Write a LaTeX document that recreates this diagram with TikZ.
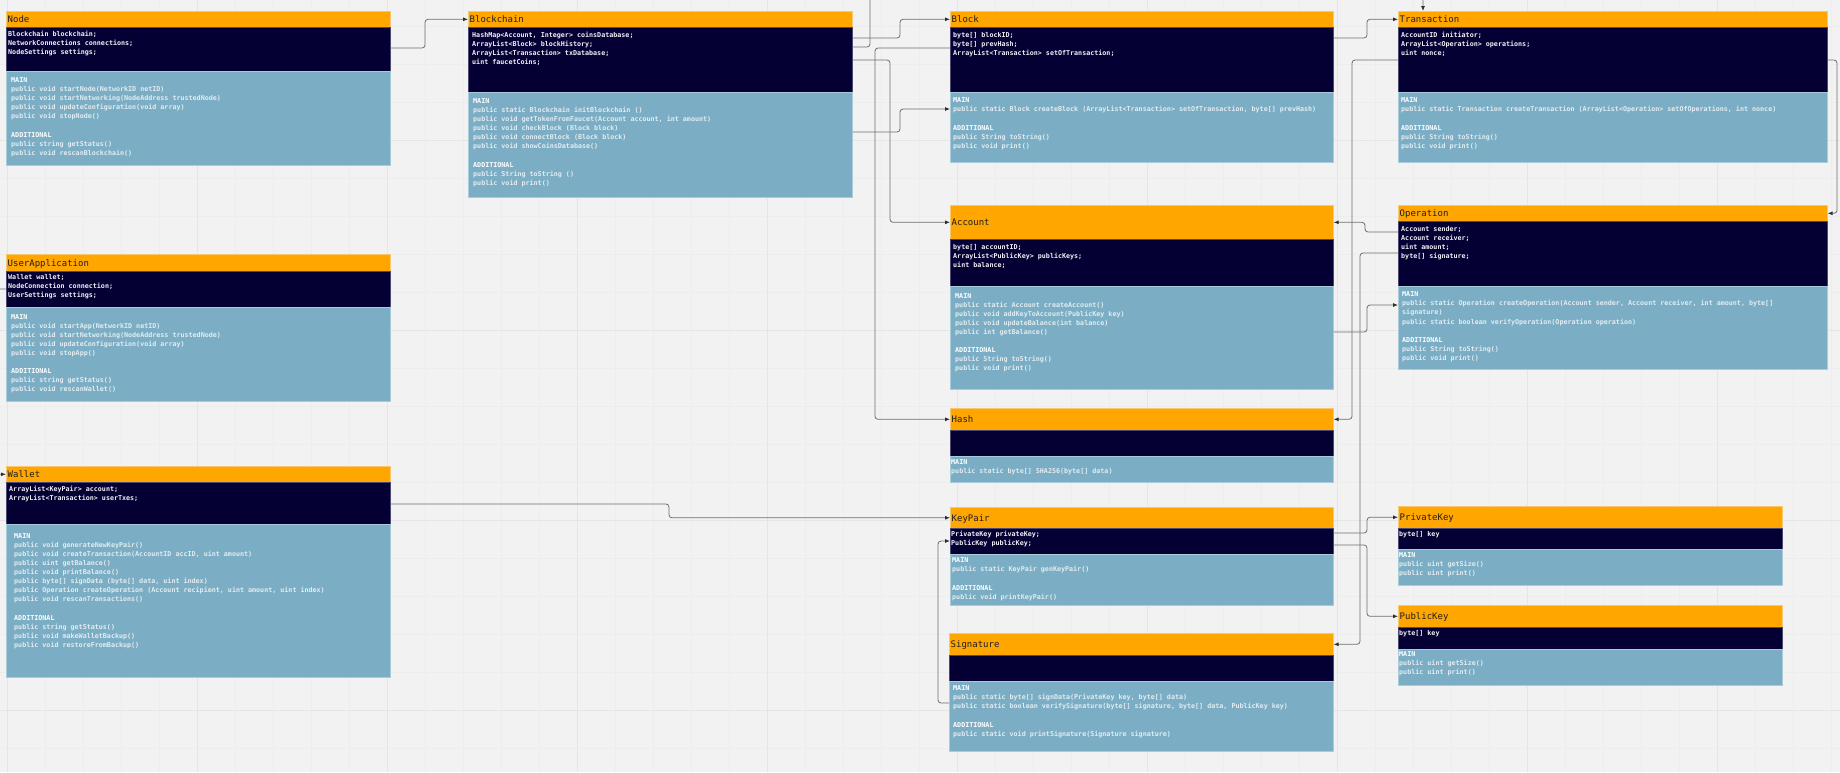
\documentclass[tikz,border=0pt]{standalone}
\usepackage{fontspec}
\usetikzlibrary{arrows.meta}
\newfontfamily\monofont{DejaVu Sans Mono}

\definecolor{bgc}{HTML}{F2F2F2}
\definecolor{gridminor}{HTML}{EDEDED}
\definecolor{gridmajor}{HTML}{E5E5E5}
\definecolor{hdr}{HTML}{FFA600}
\definecolor{hdrline}{HTML}{F9C770}
\definecolor{navy}{HTML}{050033}
\definecolor{navyline}{HTML}{4C4A72}
\definecolor{steel}{HTML}{7BAEC4}
\definecolor{steelline}{HTML}{A9CCDA}
\definecolor{attrc}{HTML}{F0F0F6}
\definecolor{methc}{HTML}{E2ECF1}
\definecolor{wire}{HTML}{6E6E6E}
\definecolor{tipc}{HTML}{2E2E2E}

\tikzset{
  titlebox/.style={rectangle, draw=hdrline, fill=hdr, line width=0.6pt, anchor=north west, inner sep=0pt},
  attrbox/.style={rectangle, draw=navyline, fill=navy, line width=0.6pt, anchor=north west, inner sep=0pt},
  methbox/.style={rectangle, draw=steelline, fill=steel, line width=0.6pt, anchor=north west, inner sep=0pt},
  titletext/.style={anchor=west, inner sep=0pt, font=\monofont\fontsize{9}{10}\selectfont, text=black!88, text height=6.5pt, text depth=0pt},
  attrtext/.style={anchor=north west, inner sep=0pt, align=left, font=\monofont\bfseries\fontsize{6.7}{9.1}\selectfont, text=attrc},
  methtext/.style={anchor=north west, inner sep=0pt, align=left, font=\monofont\bfseries\fontsize{6.7}{9.1}\selectfont, text=methc},
  wirestyle/.style={draw=wire, line width=0.8pt, rounded corners=3pt},
  arr/.style={wirestyle, -{Latex[length=5pt,width=4pt,color=tipc]}}
}

% class box: name, left x, width, top, title bottom, attributes bottom, methods bottom, title
\newcommand\umlclass[8]{%
  \node[titlebox, minimum width=#3pt, minimum height={(#5-#4)*1pt}] (#1-t) at (#2,#4) {};
  \node[attrbox, minimum width=#3pt, minimum height={(#6-#5)*1pt}] (#1-a) at (#2,#5) {};
  \node[methbox, minimum width=#3pt, minimum height={(#7-#6)*1pt}] (#1-m) at (#2,#6) {};
  \node[titletext] (#1-n) at ([xshift=1.5pt]#1-t.west) {#8};
}
% attribute and method listings: name, x offset, y offset, lines
\newcommand\umlattrs[4]{\node[attrtext] (#1-at) at ([xshift=#2pt,yshift=-#3pt]#1-a.north west) {\strut #4};}
\newcommand\umlmeths[4]{\node[methtext] (#1-mt) at ([xshift=#2pt,yshift=-#3pt]#1-m.north west) {\strut #4};}
\newcommand\sectlabel[1]{{\color{white}#1}}

\begin{document}
\begin{tikzpicture}[x=1pt, y=-1pt]
\useasboundingbox (0,0) rectangle (1840,772);
\clip (0,0) rectangle (1840,772);
\fill[bgc] (0,0) rectangle (1840,772);

% background grid
\foreach \gx in {7,45,...,1840} \draw[gridminor, line width=0.6pt] (\gx,0) -- (\gx,772);
\foreach \gy in {26,64,...,772} \draw[gridminor, line width=0.6pt] (0,\gy) -- (1840,\gy);
\foreach \gx in {7,197,...,1840} \draw[gridmajor, line width=0.8pt] (\gx,0) -- (\gx,772);
\foreach \gy in {140,330,520,710} \draw[gridmajor, line width=0.8pt] (0,\gy) -- (1840,\gy);

% ---------- classes ----------
\umlclass{node}{6}{384}{11}{27}{71}{165}{Node}
\umlattrs{node}{2}{2.9}{Blockchain blockchain;\\NetworkConnections connections;\\NodeSettings settings;}
\umlmeths{node}{5}{4.9}{\sectlabel{MAIN}\\public void startNode(NetworkID netID)\\public void startNetworking(NodeAddress trustedNode)\\public void updateConfiguration(void array)\\public void stopNode()\\[9.1pt]\sectlabel{ADDITIONAL}\\public string getStatus()\\public void rescanBlockchain()}

\umlclass{chain}{468}{384}{11}{27}{92}{197}{Blockchain}
\umlattrs{chain}{4}{3.9}{HashMap<Account, Integer> coinsDatabase;\\ArrayList<Block> blockHistory;\\ArrayList<Transaction> txDatabase;\\uint faucetCoins;}
\umlmeths{chain}{5}{4.9}{\sectlabel{MAIN}\\public static Blockchain initBlockchain ()\\public void getTokenFromFaucet(Account account, int amount)\\public void checkBlock (Block block)\\public void connectBlock (Block block)\\public void showCoinsDatabase()\\[9.1pt]\sectlabel{ADDITIONAL}\\public String toString ()\\public void print()}

\umlclass{block}{950}{383}{11}{27}{92}{162}{Block}
\umlattrs{block}{3}{3.6}{byte[] blockID;\\byte[] prevHash;\\ArrayList<Transaction> setOfTransaction;}
\umlmeths{block}{3}{4.2}{\sectlabel{MAIN}\\public static Block createBlock (ArrayList<Transaction> setOfTransaction, byte[] prevHash)\\[9.1pt]\sectlabel{ADDITIONAL}\\public String toString()\\public void print()}

\umlclass{tx}{1398}{429}{11}{27}{92}{162}{Transaction}
\umlattrs{tx}{3}{3.6}{AccountID initiator;\\ArrayList<Operation> operations;\\uint nonce;}
\umlmeths{tx}{3}{4.2}{\sectlabel{MAIN}\\public static Transaction createTransaction (ArrayList<Operation> setOfOperations, int nonce)\\[9.1pt]\sectlabel{ADDITIONAL}\\public String toString()\\public void print()}

\umlclass{account}{950}{383}{205}{239}{286}{389}{Account}
\umlattrs{account}{3}{3.6}{byte[] accountID;\\ArrayList<PublicKey> publicKeys;\\uint balance;}
\umlmeths{account}{5}{5.6}{\sectlabel{MAIN}\\public static Account createAccount()\\public void addKeyToAccount(PublicKey key)\\public void updateBalance(int balance)\\public int getBalance()\\[9.1pt]\sectlabel{ADDITIONAL}\\public String toString()\\public void print()}

\umlclass{operation}{1398}{429}{205}{221}{286}{369}{Operation}
\umlattrs{operation}{3}{3.6}{Account sender;\\Account receiver;\\uint amount;\\byte[] signature;}
\umlmeths{operation}{4}{4.2}{\sectlabel{MAIN}\\public static Operation createOperation(Account sender, Account receiver, int amount, byte[]\\signature)\\public static boolean verifyOperation(Operation operation)\\[9.1pt]\sectlabel{ADDITIONAL}\\public String toString()\\public void print()}

\umlclass{userapp}{6}{384}{254}{271}{307}{401}{UserApplication}
\umlattrs{userapp}{2}{1.6}{Wallet wallet;\\NodeConnection connection;\\UserSettings settings;}
\umlmeths{userapp}{5}{5.6}{\sectlabel{MAIN}\\public void startApp(NetworkID netID)\\public void startNetworking(NodeAddress trustedNode)\\public void updateConfiguration(void array)\\public void stopApp()\\[9.1pt]\sectlabel{ADDITIONAL}\\public string getStatus()\\public void rescanWallet()}

\umlclass{wallet}{6}{384}{466}{482}{524}{677}{Wallet}
\umlattrs{wallet}{3}{2.6}{ArrayList<KeyPair> account;\\ArrayList<Transaction> userTxes;}
\umlmeths{wallet}{8}{7.6}{\sectlabel{MAIN}\\public void generateNewKeyPair()\\public void createTransaction(AccountID accID, uint amount)\\public uint getBalance()\\public void printBalance()\\public byte[] signData (byte[] data, uint index)\\public Operation createOperation (Account recipient, uint amount, uint index)\\public void rescanTransactions()\\[9.1pt]\sectlabel{ADDITIONAL}\\public string getStatus()\\public void makeWalletBackup()\\public void restoreFromBackup()}

\umlclass{hash}{950}{383}{408}{430}{456}{482}{Hash}
\umlmeths{hash}{1}{1.6}{\sectlabel{MAIN}\\public static byte[] SHA256(byte[] data)}

\umlclass{keypair}{950}{383}{507}{528}{554}{605}{KeyPair}
\umlattrs{keypair}{1}{1.9}{PrivateKey privateKey;\\PublicKey publicKey;}
\umlmeths{keypair}{2}{2.2}{\sectlabel{MAIN}\\public static KeyPair genKeyPair()\\[9.1pt]\sectlabel{ADDITIONAL}\\public void printKeyPair()}

\umlclass{privkey}{1398}{384}{506}{528}{549}{585}{PrivateKey}
\umlattrs{privkey}{1}{1.6}{byte[] key}
\umlmeths{privkey}{1}{2.2}{\sectlabel{MAIN}\\public uint getSize()\\public uint print()}

\umlclass{pubkey}{1398}{384}{605}{627}{649}{685}{PublicKey}
\umlattrs{pubkey}{1}{1.6}{byte[] key}
\umlmeths{pubkey}{1}{1.2}{\sectlabel{MAIN}\\public uint getSize()\\public uint print()}

\umlclass{signature}{949}{384}{633}{655}{681}{751}{Signature}
\umlmeths{signature}{4}{3.2}{\sectlabel{MAIN}\\public static byte[] signData(PrivateKey key, byte[] data)\\public static boolean verifySignature(byte[] signature, byte[] data, PublicKey key)\\[9.1pt]\sectlabel{ADDITIONAL}\\public static void printSignature(Signature signature)}

% ---------- connectors ----------
\draw[arr] (node-a.east |- 0,48) -- (425,48) |- (chain-t.west);
\draw[arr] (chain-a.east |- 0,38) -- (900,38) |- (block-t.west);
\draw[arr] (chain-a.east |- 0,47) -- (870,47) -- (870,-12) -- (1423,-12) -- (tx-t.north -| 1423,0);
\draw[arr] (block-a.west |- 0,48) -- (875,48) |- (hash-t.west);
\draw[arr] (chain-a.east |- 0,60) -- (890,60) |- (account-t.west);
\draw[arr] (chain-m.east |- 0,132) -- (900,132) |- (block-m.west |- 0,109);
\draw[arr] (block-a.east |- 0,38) -- (1367,38) |- (tx-t.west);
\draw[arr] (tx-a.west |- 0,60) -- (1352,60) |- (hash-t.east);
\draw[arr] (tx-a.east |- 0,60) -- (1837,60) |- (operation-t.east);
\draw[arr] (operation-a.west |- 0,232) -- (1365,232) |- (account-t.east);
\draw[arr] (operation-a.west |- 0,253) -- (1360,253) |- (signature-t.east);
\draw[arr] (account-m.east |- 0,332) -- (1367,332) |- (operation-m.west |- 0,305);
\draw[arr] (keypair-a.east |- 0,533) -- (1367,533) |- (privkey-t.west);
\draw[arr] (keypair-a.east |- 0,545) -- (1367,545) |- (pubkey-t.west);
\draw[arr] (wallet-a.east |- 0,504) -- (669,504) |- (keypair-t.west);
\draw[arr] (signature-m.west |- 0,703) -- (938,703) |- (keypair-a.west |- 0,541);
\draw[arr] (userapp-a.west |- 0,289) -- (-5,289) |- (wallet-t.west);
\end{tikzpicture}
\end{document}
